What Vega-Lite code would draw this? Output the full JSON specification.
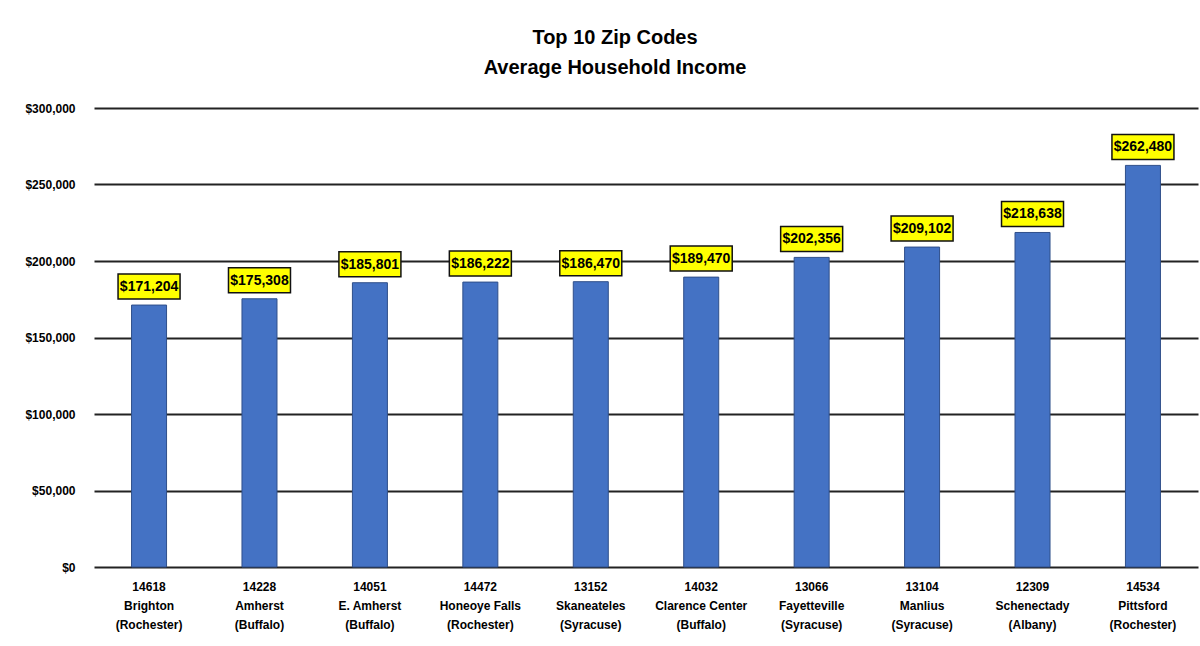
{
  "$schema": "https://vega.github.io/schema/vega-lite/v6.json",
  "autosize": "none",
  "width": 1104,
  "height": 459,
  "padding": {"left": 94, "top": 108, "right": 2, "bottom": 79},
  "background": "white",
  "title": {
    "text": ["Top 10 Zip Codes", "Average Household Income"],
    "anchor": "middle",
    "dx": -31,
    "offset": 24,
    "font": "Liberation Sans, Arial, sans-serif",
    "fontSize": 20,
    "fontWeight": "bold",
    "lineHeight": 30,
    "color": "black"
  },
  "config": {
    "view": {"stroke": null},
    "font": "Liberation Sans, Arial, sans-serif"
  },
  "data": {
    "values": [
      {"label": "14618|Brighton|(Rochester)", "income": 171204},
      {"label": "14228|Amherst|(Buffalo)", "income": 175308},
      {"label": "14051|E. Amherst|(Buffalo)", "income": 185801},
      {"label": "14472|Honeoye Falls|(Rochester)", "income": 186222},
      {"label": "13152|Skaneateles|(Syracuse)", "income": 186470},
      {"label": "14032|Clarence Center|(Buffalo)", "income": 189470},
      {"label": "13066|Fayetteville|(Syracuse)", "income": 202356},
      {"label": "13104|Manlius|(Syracuse)", "income": 209102},
      {"label": "12309|Schenectady|(Albany)", "income": 218638},
      {"label": "14534|Pittsford|(Rochester)", "income": 262480}
    ]
  },
  "encoding": {
    "x": {
      "field": "label",
      "type": "nominal",
      "sort": null,
      "title": null,
      "scale": {"paddingInner": 0.683, "paddingOuter": 0.34},
      "axis": {
        "labelAngle": 0,
        "domain": false,
        "ticks": false,
        "labelPadding": 14,
        "labelBaseline": "top",
        "labelFontSize": 12,
        "labelFontWeight": "bold",
        "labelColor": "black",
        "labelLineHeight": 19,
        "labelExpr": "split(datum.label, '|')"
      }
    },
    "y": {
      "field": "income",
      "type": "quantitative",
      "title": null,
      "scale": {"domain": [0, 300000], "nice": false},
      "axis": {
        "values": [0, 50000, 100000, 150000, 200000, 250000, 300000],
        "domain": false,
        "ticks": false,
        "grid": true,
        "gridColor": "#222222",
        "gridWidth": 2,
        "gridOpacity": 1,
        "labelPadding": 19,
        "labelFontSize": 12,
        "labelFontWeight": "bold",
        "labelColor": "black",
        "labelExpr": "'$' + format(datum.value, ',')"
      }
    }
  },
  "layer": [
    {
      "mark": {"type": "bar", "color": "#4472C4", "stroke": "#2F4F8A", "strokeWidth": 1}
    },
    {
      "mark": {
        "type": "point",
        "shape": "M-1,-0.403L1,-0.403L1,0.403L-1,0.403Z",
        "size": 3844,
        "filled": true,
        "fill": "#FFFF00",
        "stroke": "#111111",
        "strokeWidth": 1.5,
        "opacity": 1,
        "yOffset": -18.5
      }
    },
    {
      "mark": {
        "type": "text",
        "fontSize": 14,
        "fontWeight": "bold",
        "color": "black",
        "baseline": "middle",
        "yOffset": -18
      },
      "encoding": {
        "text": {"field": "income", "type": "quantitative", "format": "$,.0f"}
      }
    }
  ]
}
